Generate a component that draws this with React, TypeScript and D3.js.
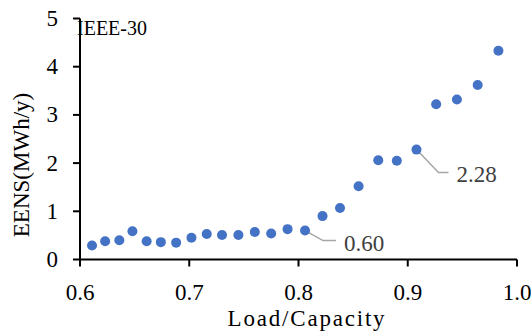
import React from "react";
import * as d3 from "d3";

const loadRatio = [0.611, 0.623, 0.636, 0.648, 0.661, 0.674, 0.688, 0.702, 0.716, 0.730, 0.745, 0.760, 0.775, 0.790, 0.806, 0.822, 0.838, 0.855, 0.873, 0.890, 0.908, 0.926, 0.945, 0.964, 0.983];
const eens = [0.29, 0.38, 0.40, 0.585, 0.38, 0.36, 0.35, 0.45, 0.53, 0.51, 0.51, 0.57, 0.54, 0.63, 0.60, 0.90, 1.07, 1.52, 2.06, 2.05, 2.28, 3.22, 3.32, 3.62, 4.33];
const xTicks = [0.6, 0.7, 0.8, 0.9, 1.0];
const yTicks = [0, 1, 2, 3, 4, 5];
const labelledIdx = [14, 20];
const labelText = ["0.60", "2.28"];

const FONT = "'Liberation Serif', 'Times New Roman', serif";

export default function App() {
  const x = d3.scaleLinear().domain([0.6, 1.0]).range([80, 517]);
  const y = d3.scaleLinear().domain([0, 5]).range([259.5, 18.5]);
  const pts = loadRatio.map((v, i) => ({ x: v, y: eens[i] }));
  const leader = d3.line<[number, number]>();

  const labelPos = [
    { dx1: 18, dy1: 10, dx2: 31, tx: 39, ty: 20 },
    { dx1: 22, dy1: 23, dx2: 32, tx: 40, ty: 32 },
  ];

  return (
    <svg width={531} height={334} style={{ position: "absolute", left: 0, top: 0, background: "#fff" }} fontFamily={FONT}>
      <rect width={531} height={334} fill="#fff" />
      {/* axes */}
      <line x1={x(0.6)} x2={x(1.0)} y1={y(0)} y2={y(0)} stroke="#000" strokeWidth={2} />
      <line x1={x(0.6)} x2={x(0.6)} y1={y(0)} y2={y(5)} stroke="#000" strokeWidth={2} />
      {xTicks.map((t) => (
        <g key={"x" + t}>
          <line x1={x(t)} x2={x(t)} y1={y(0)} y2={y(0) + 7} stroke="#000" strokeWidth={2} />
          <text x={x(t)} y={300} textAnchor="middle" fontSize={23} fill="#000">{d3.format(".1f")(t)}</text>
        </g>
      ))}
      {yTicks.map((t) => (
        <g key={"y" + t}>
          <line x1={x(0.6) - 7} x2={x(0.6)} y1={y(t)} y2={y(t)} stroke="#000" strokeWidth={2} />
          <text x={58} y={y(t) + 7.5} textAnchor="end" fontSize={23} fill="#000">{t}</text>
        </g>
      ))}
      {/* titles */}
      <text x={307} y={326} textAnchor="middle" fontSize={23} letterSpacing={1.8} fill="#000">Load/Capacity</text>
      <text transform="translate(29,165) rotate(-90)" textAnchor="middle" fontSize={23} fill="#000">EENS(MWh/y)</text>
      <text x={77} y={35} fontSize={20} fill="#000">IEEE-30</text>
      {/* leader lines & labels */}
      {labelledIdx.map((idx, k) => {
        const px = x(pts[idx].x);
        const py = y(pts[idx].y);
        const p = labelPos[k];
        const d = leader([[px, py], [px + p.dx1, py + p.dy1], [px + p.dx2, py + p.dy1]]) as string;
        return (
          <g key={"lab" + idx}>
            <path d={d} fill="none" stroke="#A6A6A6" strokeWidth={1.5} />
            <text x={px + p.tx} y={py + p.ty} fontSize={23} fill="#404040">{labelText[k]}</text>
          </g>
        );
      })}
      {/* points */}
      {pts.map((p, i) => (
        <circle key={i} cx={x(p.x)} cy={y(p.y)} r={5} fill="#4472C4" />
      ))}
    </svg>
  );
}
